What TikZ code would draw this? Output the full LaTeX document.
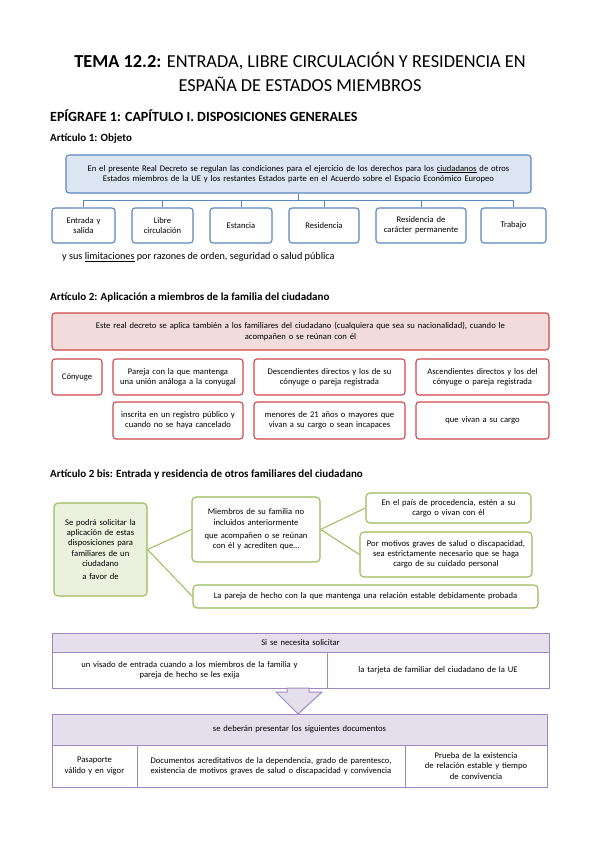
\documentclass[tikz,border=0pt]{standalone}
\usepackage{fontspec}
\setmainfont{Carlito}
\usetikzlibrary{calc}
\definecolor{blueB}{HTML}{5B86C0}
\definecolor{blueF}{HTML}{DCE6F2}
\definecolor{redB}{HTML}{D0474A}
\definecolor{redF}{HTML}{F2DCDB}
\definecolor{greenB}{HTML}{9BBB59}
\definecolor{greenF}{HTML}{EBF1DE}
\definecolor{purB}{HTML}{9F88C0}
\definecolor{purF}{HTML}{E5DFEC}
\newcommand\mybx[7]{%
 \pgfmathsetmacro\myBW{#4-#2}\pgfmathsetmacro\myBH{#5-#3}\pgfmathsetmacro\myTW{#4-#2-4}%
 \node[#6, minimum width=\myBW pt, minimum height=\myBH pt, text width=\myTW pt] (#1) at ({(#2+#4)/2},{(#3+#5)/2}) {#7};}
\tikzset{
 base/.style={inner xsep=2pt, inner ysep=1pt, align=center, font=\fontsize{8.6}{10.2}\selectfont},
 bluebox/.style={base, draw=blueB, fill=blueF, line width=1.1pt, rounded corners=3pt},
 blueleaf/.style={base, draw=blueB, fill=white, line width=1.1pt, rounded corners=3pt},
 redbox/.style={base, draw=redB, fill=redF, line width=1.1pt, rounded corners=3pt},
 redleaf/.style={base, draw=redB, fill=white, line width=1.1pt, rounded corners=3pt},
 greenbox/.style={base, draw=greenB, fill=greenF, line width=1.1pt, rounded corners=4pt},
 greenleaf/.style={base, draw=greenB, fill=white, line width=1.1pt, rounded corners=4pt},
 purhead/.style={base, draw=purB, fill=purF, line width=1pt},
 purcell/.style={base, draw=purB, fill=white, line width=1pt},
 blueline/.style={draw=blueB, line width=1pt},
 greenline/.style={draw=greenB, line width=1pt},
 heading/.style={anchor=west, inner sep=0pt, font=\fontsize{11}{13}\selectfont\bfseries},
}
\begin{document}
\begin{tikzpicture}[x=1pt,y=-1pt]
\useasboundingbox (0,0) rectangle (599,848);
% title
\node[inner sep=0pt, align=center, font=\fontsize{18.3}{24}\selectfont] (title) at (300,72)
 {\textbf{TEMA 12.2:} ENTRADA, LIBRE CIRCULACIÓN Y RESIDENCIA EN\\ESPAÑA DE ESTADOS MIEMBROS};
\node[anchor=west, inner sep=0pt, font=\fontsize{14}{16}\selectfont\bfseries] (epi) at (50,116)
 {EPÍGRAFE 1: CAPÍTULO I. DISPOSICIONES GENERALES};
\node[heading] (a1) at (50,139) {Artículo 1: Objeto};
% article 1
\mybx{top}{66}{155}{531}{193}{bluebox}{En el presente Real Decreto se regulan las condiciones para el ejercicio de los derechos para los \underline{ciudadanos} de otros\\Estados miembros de la UE y los restantes Estados parte en el Acuerdo sobre el Espacio Económico Europeo}
\mybx{c1}{52}{208}{115}{243}{blueleaf}{Entrada y\\salida}
\mybx{c2}{132}{208}{193}{243}{blueleaf}{Libre\\circulación}
\mybx{c3}{210}{208}{272}{243}{blueleaf}{Estancia}
\mybx{c4}{289}{208}{359}{243}{blueleaf}{Residencia}
\mybx{c5}{376}{208}{466}{243}{blueleaf}{Residencia de\\carácter permanente}
\mybx{c6}{481}{208}{546}{243}{blueleaf}{Trabajo}
\coordinate (bus) at ($(top.south)+(0,7)$);
\foreach \c in {c1,c2,c3,c4,c5,c6}{\draw[blueline] (top.south) -- (bus) -| (\c.north);}
\node[anchor=west, inner sep=0pt, font=\fontsize{10.2}{12}\selectfont] (lim) at (62,257)
 {y sus \underline{limitaciones} por razones de orden, seguridad o salud pública};
% article 2
\node[heading] (a2) at (50,298) {Artículo 2: Aplicación a miembros de la familia del ciudadano};
\mybx{rtop}{52}{313}{549}{350}{redbox}{Este real decreto se aplica también a los familiares del ciudadano (cualquiera que sea su nacionalidad), cuando le\\acompañen o se reúnan con él}
\mybx{r1}{52}{359}{102}{395}{redleaf}{Cónyuge}
\mybx{r2}{113}{359}{243}{395}{redleaf}{Pareja con la que mantenga\\una unión análoga a la conyugal}
\mybx{r3}{254}{359}{405}{395}{redleaf}{Descendientes directos y los de su\\cónyuge o pareja registrada}
\mybx{r4}{416}{359}{549}{395}{redleaf}{Ascendientes directos y los del\\cónyuge o pareja registrada}
\mybx{r5}{113}{402}{243}{439}{redleaf}{inscrita en un registro público y\\cuando no se haya cancelado}
\mybx{r6}{254}{402}{405}{439}{redleaf}{menores de 21 años o mayores que\\vivan a su cargo o sean incapaces}
\mybx{r7}{416}{402}{549}{439}{redleaf}{que vivan a su cargo}
% article 2 bis
\node[heading] (a2b) at (50,475) {Artículo 2 bis: Entrada y residencia de otros familiares del ciudadano};
\mybx{g1}{54}{503}{147}{596}{greenbox}{Se podrá solicitar la\\aplicación de estas\\disposiciones para\\familiares de un\\ciudadano\\[3pt]a favor de}
\mybx{g2}{192}{497}{320}{562}{greenleaf}{Miembros de su familia no\\incluidos anteriormente\\[3pt]que acompañen o se reúnan\\con él y acrediten que…}
\mybx{g3}{366}{493}{531}{523}{greenleaf}{En el país de procedencia, estén a su\\cargo o vivan con él}
\mybx{g4}{360}{532}{532}{577}{greenleaf}{Por motivos graves de salud o discapacidad,\\sea estrictamente necesario que se haga\\cargo de su cuidado personal}
\mybx{g5}{193}{585}{538}{608}{greenleaf}{La pareja de hecho con la que mantenga una relación estable debidamente probada}
\draw[greenline] (g1.east) -- (g2.west);
\draw[greenline] (g1.east) -- (g5.west);
\draw[greenline] (g2.east) -- (g3.west);
\draw[greenline] (g2.east) -- (g4.west);
% table 1
\mybx{t1h}{52}{633}{549}{652}{purhead}{Si se necesita solicitar}
\mybx{t1a}{52}{652}{327}{688}{purcell}{un visado de entrada cuando a los miembros de la familia y\\pareja de hecho se les exija}
\mybx{t1b}{327}{652}{549}{688}{purcell}{la tarjeta de familiar del ciudadano de la UE}
% arrow
\draw[draw=purB, fill=purF, line width=1pt, line join=miter]
 (287,688) -- (309,688) -- (309,692) -- (322,692) -- (298,714) -- (276,692) -- (287,692) -- cycle;
% table 2
\mybx{t2h}{52}{714}{547}{745}{purhead}{se deberán presentar los siguientes documentos}
\mybx{t2a}{52}{745}{137}{787}{purcell}{Pasaporte\\válido y en vigor}
\mybx{t2b}{137}{745}{405}{787}{purcell}{Documentos acreditativos de la dependencia, grado de parentesco,\\existencia de motivos graves de salud o discapacidad y convivencia}
\mybx{t2c}{405}{745}{547}{787}{purcell}{Prueba de la existencia\\de relación estable y tiempo\\de convivencia}
\end{tikzpicture}
\end{document}
